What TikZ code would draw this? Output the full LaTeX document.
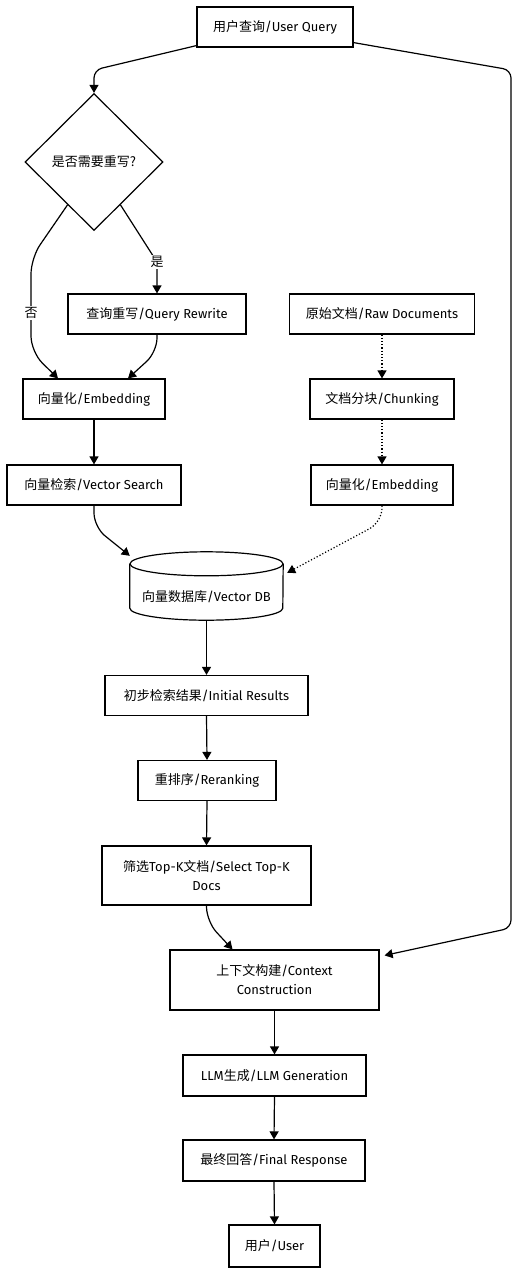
\documentclass[tikz,border=0pt]{standalone}
\usepackage{fontspec}
\setmainfont{Fira Sans}
\newfontfamily\cjk{Noto Sans CJK SC}
\newcommand{\zh}[1]{{\cjk #1}}
\usetikzlibrary{shapes.geometric,arrows.meta,calc}
\begin{document}
\begin{tikzpicture}[x=1pt,y=-1pt,
  txt/.style={font=\fontsize{13}{19}\selectfont,align=center},
  box/.style={txt,draw,line width=1.2pt,inner sep=2pt,minimum height=40pt},
  arr/.style={line width=1.2pt,-{Triangle[length=8pt,width=9pt]},rounded corners=8pt},
  dots/.style={arr,dotted},
  lbl/.style={txt,fill=white,inner sep=1pt}
]
\useasboundingbox (0,0) rectangle (522,1280);

\node[box,minimum width=156pt] (uq) at (275,27) {\zh{用户查询}/User Query};
\node[txt,draw,line width=1.2pt,shape=diamond,aspect=1,minimum width=138pt,minimum height=137pt,inner sep=0pt] (dec) at (94,162) {\zh{是否需要重写?}};
\node[box,minimum width=178pt] (qr) at (157,314) {\zh{查询重写}/Query Rewrite};
\node[box,minimum width=185pt] (raw) at (382,314) {\zh{原始文档}/Raw Documents};
\node[box,minimum width=142pt] (emb1) at (94,399) {\zh{向量化}/Embedding};
\node[box,minimum width=144pt] (chunk) at (382,399) {\zh{文档分块}/Chunking};
\node[box,minimum width=174pt] (vs) at (94,485) {\zh{向量检索}/Vector Search};
\node[box,minimum width=142pt] (emb2) at (382,485) {\zh{向量化}/Embedding};

% vector DB cylinder
\node[minimum width=153pt,minimum height=68pt,inner sep=0pt] (db) at (206.5,586) {};
\draw[line width=1.2pt] ([yshift=-12pt]db.north) ellipse [x radius=76.5pt,y radius=12pt];
\draw[line width=1.2pt] ([yshift=-12pt]db.north west) -- ([yshift=12pt]db.south west)
   arc[start angle=180,end angle=360,x radius=76.5pt,y radius=12pt] -- ([yshift=-12pt]db.north east);
\node[txt] (dbl) at (206.5,597) {\zh{向量数据库}/Vector DB};

\node[box,minimum width=203pt] (init) at (206.5,695.5) {\zh{初步检索结果}/Initial Results};
\node[box,minimum width=138pt] (rr) at (207,780.5) {\zh{重排序}/Reranking};
\node[box,minimum width=209pt,minimum height=59pt] (topk) at (206.5,875.5) {\zh{筛选}Top-K\zh{文档}/Select Top-K\\Docs};
\node[box,minimum width=209pt,minimum height=60pt] (ctx) at (274.5,980) {\zh{上下文构建}/Context\\Construction};
\node[box,minimum width=183pt,minimum height=41pt] (llm) at (274.5,1075.5) {LLM\zh{生成}/LLM Generation};
\node[box,minimum width=182pt,minimum height=41pt] (fin) at (274,1160.5) {\zh{最终回答}/Final Response};
\node[box,minimum width=91pt,minimum height=42pt] (usr) at (274.5,1246) {\zh{用户}/User};

% connectors
\draw[arr] ([yshift=2pt]uq.south west) -- (94,70) -- (dec.north);
\draw[arr] ([yshift=5pt]uq.south east) -- (511,70) -- (511,928) -- ([xshift=5pt,yshift=-6pt]ctx.north east);
\draw[arr,rounded corners=16pt] ($(dec.west)!0.62!(dec.south)$) -- (31,258) -- (31,352) -- ([xshift=-36pt]emb1.north);
\node[lbl] (no) at (31,313) {\zh{否}};
\draw[arr] ($(dec.east)!0.62!(dec.south)$) -- (157,262) -- (qr.north);
\node[lbl] (yes) at (157,262) {\zh{是}};
\draw[arr,rounded corners=14pt] (qr.south) -- (157,352) -- ([xshift=34pt]emb1.north);
\draw[arr] (emb1.south) -- (vs.north);
\draw[arr,rounded corners=14pt] (vs.south) -- (94,527) -- ([yshift=-4pt]db.north west);
\draw[dots] (raw.south) -- (chunk.north);
\draw[dots] (chunk.south) -- (emb2.north);
\draw[dots,rounded corners=14pt] (emb2.south) -- (382,522) -- ([xshift=4pt,yshift=-21pt]db.north east);
\draw[arr] (db.south) -- (init.north);
\draw[arr] (init.south) -- (rr.north);
\draw[arr] (rr.south) -- (topk.north);
\draw[arr,rounded corners=14pt] (topk.south) -- (207,922) -- ([xshift=-42pt]ctx.north);
\draw[arr] (ctx.south) -- (llm.north);
\draw[arr] (llm.south) -- (fin.north);
\draw[arr] (fin.south) -- (usr.north);
\end{tikzpicture}
\end{document}
